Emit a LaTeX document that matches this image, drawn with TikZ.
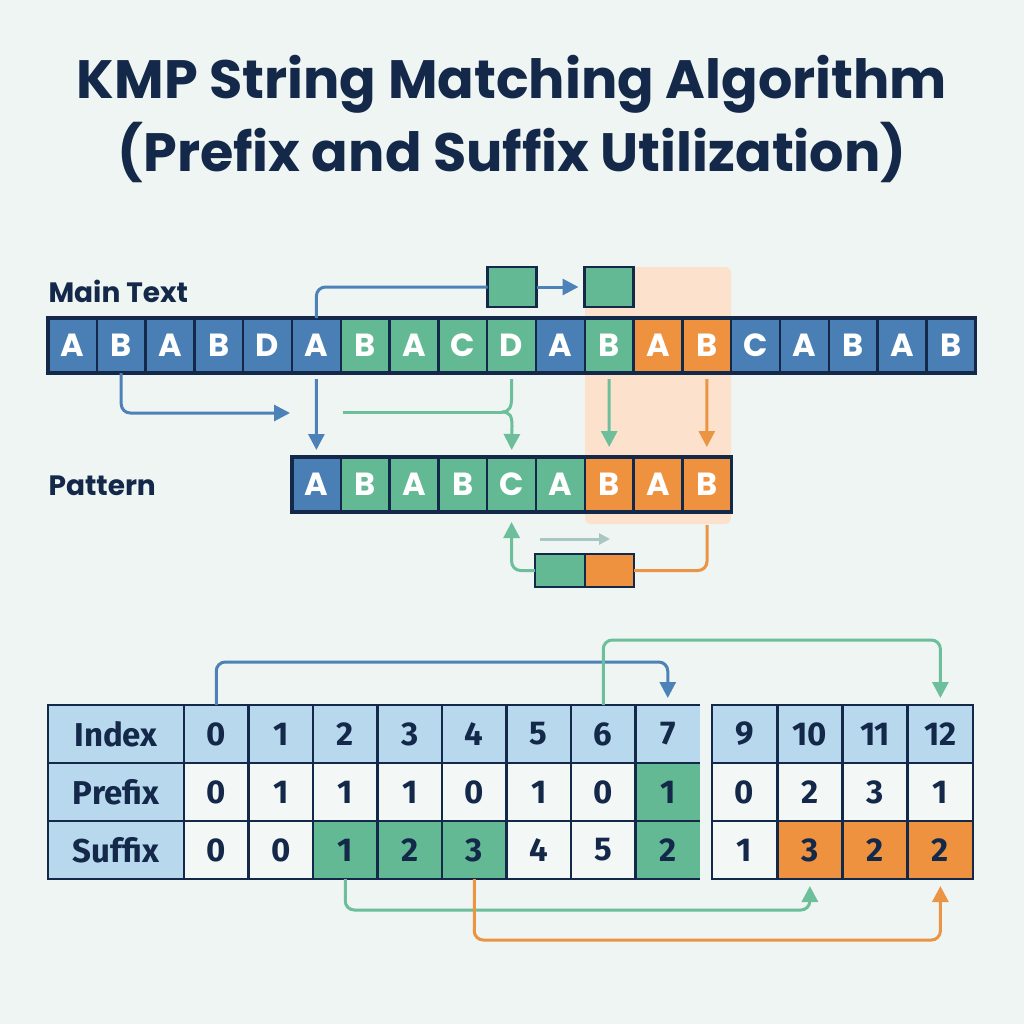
\documentclass[tikz,border=0pt]{standalone}
\usepackage{fontspec}
\setmainfont{Poppins}
\newfontfamily\tabfont{Fira Sans}
\usetikzlibrary{arrows.meta}
\definecolor{bg}{HTML}{EEF5F2}
\definecolor{navy}{HTML}{14284A}
\definecolor{cb}{HTML}{4A7FB5}
\definecolor{cg}{HTML}{62B994}
\definecolor{co}{HTML}{EE9240}
\definecolor{ab}{HTML}{4C82B8}
\definecolor{ag}{HTML}{6CBF9A}
\definecolor{ao}{HTML}{EA9444}
\definecolor{hb}{HTML}{B8D8EE}
\definecolor{cw}{HTML}{F3F8F6}
\definecolor{peach}{HTML}{FCE2CC}
\definecolor{gray1}{HTML}{A9C7C2}
\tikzset{
  title/.style={text=navy, font=\bfseries\fontsize{54}{60}\selectfont},
  lbl/.style={text=navy, anchor=west, font=\bfseries\fontsize{28}{30}\selectfont},
  cell/.style={draw=navy, line width=2.4pt, minimum width=48.8pt, minimum height=55pt, inner sep=0pt, outer sep=0pt, text=white, font=\bfseries\fontsize{32}{32}\selectfont},
  mini/.style={draw=navy, line width=2.8pt, inner sep=0pt, outer sep=0pt},
  tcell/.style={minimum width=64.5pt, minimum height=58pt, inner sep=0pt, outer sep=0pt, text=navy, font=\tabfont\bfseries\fontsize{33}{33}\selectfont},
  rcell/.style={tcell, draw=navy, line width=2.8pt, minimum width=65.25pt},
  conn/.style={line width=3pt, rounded corners=9pt},
  tip/.style={-{Triangle[length=16pt,width=16pt]}},
}
\begin{document}
\begin{tikzpicture}[x=1pt,y=-1pt]
\useasboundingbox[fill=bg] (0,0) rectangle (1024,1024);
% title
\node[title] (t1) at (512,84) {KMP String Matching Algorithm};
\node[title] (t2) at (512,152) {(Prefix and Suffix Utilization)};
% highlight
\fill[peach, rounded corners=6pt] (585,267) rectangle (731,524);
% labels
\node[lbl] (mainlbl) at (45,291) {Main Text};
\node[lbl] (patlbl) at (45,486) {Pattern};
% main text
\foreach \ch/\c [count=\i from 0] in {A/cb,B/cb,A/cb,B/cb,D/cb,A/cb,B/cg,A/cg,C/cg,D/cg,A/cb,B/cg,A/co,B/co,C/cb,A/cb,B/cb,A/cb,B/cb}
  \node[cell, fill=\c] (m\i) at ({48+48.8*(\i+0.5)},345.5) {\ch};
\draw[navy, line width=3.2pt] (m0.north west) rectangle (m18.south east);
% pattern
\foreach \ch/\c [count=\i from 0] in {A/cb,B/cg,A/cg,B/cg,C/cg,A/cg,B/co,A/co,B/co}
  \node[cell, fill=\c] (pt\i) at ({292+48.8*(\i+0.5)},484.5) {\ch};
\draw[navy, line width=3.2pt] (pt0.north west) rectangle (pt8.south east);
% small boxes
\node[mini, fill=cg, minimum width=49pt, minimum height=40pt] (g1) at (512,287) {};
\node[mini, fill=cg, minimum width=49pt, minimum height=40pt] (g2) at (609,287) {};
\node[mini, fill=cg, minimum width=50pt, minimum height=33pt] (gb) at (560,570.5) {};
\node[mini, fill=co, minimum width=49pt, minimum height=33pt] (ob) at (609.5,570.5) {};
% connectors top
\draw[ab, conn] (g1.west) -| (m5.north);
\draw[ab, conn, tip, shorten >=6pt] (g1.east) -- (g2.west);
\coordinate (b1end) at (290,413);
\draw[ab, conn, tip] (m1.south) |- (b1end);
\draw[ab, conn, tip, shorten <=6pt, shorten >=7pt] (m5.south) -- (pt0.north);
\coordinate (gstart) at (343,412);
\coordinate (gjoin) at (502,412);
\draw[ag, line width=3pt] (gstart) -- (gjoin);
\draw[ag, line width=3pt, shorten <=6pt] (m9.south) -- ++(0,24) .. controls ++(0,9) and (510,412) .. (gjoin);
\draw[ag, line width=3pt, tip, shorten >=7pt] (gjoin) .. controls (510,412) and (512,416) .. ++(10,14) -- (pt4.north);
\draw[ag, line width=3pt, tip, shorten <=6pt, shorten >=10pt] (m11.south) -- (pt6.north);
\draw[ao, line width=3pt, tip, shorten <=6pt, shorten >=10pt] (m13.south) -- (pt8.north);
% connectors bottom of pattern
\draw[ag, conn, tip, shorten >=10pt] (gb.west) -| (pt4.south);
\coordinate (gr1) at (540,539);
\coordinate (gr2) at (610,539);
\draw[gray1, line width=3pt, -{Triangle[length=11pt,width=11pt]}] (gr1) -- (gr2);
\coordinate (oend) at (707,525);
\draw[ao, conn] (ob.east) -| (oend);
% table left
\node[tcell, fill=hb, minimum width=136pt] (lidx) at (116,734) {Index};
\node[tcell, fill=hb, minimum width=136pt] (lpre) at (116,792) {Prefix};
\node[tcell, fill=hb, minimum width=136pt] (lsuf) at (116,850) {Suffix};
\foreach \v [count=\j from 0] in {0,1,2,3,4,5,6,7}
  \node[tcell, fill=hb] (idx\v) at ({184+64.5*(\j+0.5)},734) {\v};
\foreach \v/\c [count=\j from 0] in {0/cw,1/cw,1/cw,1/cw,0/cw,1/cw,0/cw,1/cg}
  \node[tcell, fill=\c] (pre\j) at ({184+64.5*(\j+0.5)},792) {\v};
\foreach \v/\c [count=\j from 0] in {0/cw,0/cw,1/cg,2/cg,3/cg,4/cw,5/cw,2/cg}
  \node[tcell, fill=\c] (suf\j) at ({184+64.5*(\j+0.5)},850) {\v};
% grid lines left table (no right border)
\draw[navy, line width=2.8pt] (700,705) -- (lidx.north west) -- (lsuf.south west) -- (700,879);
\draw[navy, line width=2.8pt] (lpre.north west) -- (pre7.north east);
\draw[navy, line width=2.8pt] (lsuf.north west) -- (suf7.north east);
\draw[navy, line width=2.8pt] (lidx.north east) -- (lsuf.south east);
\foreach \j in {0,...,6}
  \draw[navy, line width=2.8pt] (idx\j.north east) -- (suf\j.south east);
% table right
\foreach \v [count=\k from 0] in {9,10,11,12}
  \node[rcell, fill=hb] (idx\v) at ({712+65.25*(\k+0.5)},734) {\v};
\foreach \v [count=\k from 9] in {0,2,3,1}
  \node[rcell, fill=cw] (pre\k) at ({712+65.25*(\k-8.5)},792) {\v};
\foreach \v/\c [count=\k from 9] in {1/cw,3/co,2/co,2/co}
  \node[rcell, fill=\c] (suf\k) at ({712+65.25*(\k-8.5)},850) {\v};
% table connectors
\draw[ab, conn, tip, shorten >=7pt] (idx0.north) -- ++(0,-43) -| (idx7.north);
\draw[ag, conn, tip, shorten >=7pt] (idx6.north) -- ++(0,-65) -| (idx12.north);
\draw[ag, conn, tip, shorten >=7pt] (suf2.south) -- ++(0,31) -| (suf10.south);
\draw[ao, conn, tip, shorten >=7pt] (suf4.south) -- ++(0,61) -| (suf12.south);
\end{tikzpicture}
\end{document}
